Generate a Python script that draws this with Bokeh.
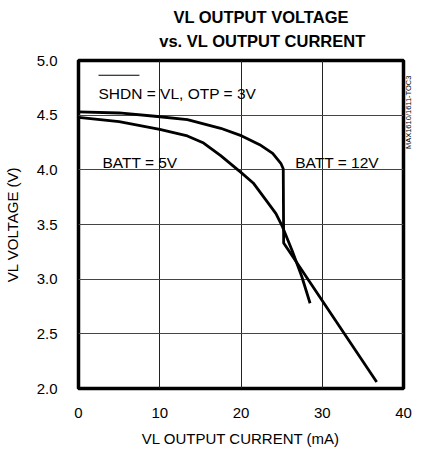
import math
from bokeh.plotting import figure
from bokeh.layouts import column
from bokeh.models import Label, FixedTicker, Range1d, LinearAxis
from bokeh.core.properties import value
from bokeh.embed import file_html
from bokeh.resources import INLINE

# ---- data ----
batt12_x = [0, 5, 9.4, 13.4, 17.5, 20.1, 22.3, 23.9, 24.9, 25.2, 25.25, 36.7]
batt12_y = [4.53, 4.52, 4.49, 4.46, 4.38, 4.31, 4.23, 4.15, 4.06, 4.01, 3.33, 2.06]

batt5_x = [0, 5, 10, 13.4, 15.4, 17.5, 20.1, 21.5, 23.1, 24.3, 25.1, 26.3, 27.5, 28.5]
batt5_y = [4.48, 4.44, 4.37, 4.31, 4.245, 4.13, 3.97, 3.88, 3.72, 3.60, 3.48, 3.26, 3.02, 2.78]

x_ticks = [0, 10, 20, 30, 40]
x_tick_labels = ["0", "10", "20", "30", "40"]
y_ticks = [2.0, 2.5, 3.0, 3.5, 4.0, 4.5, 5.0]
y_tick_labels = ["2.0", "2.5", "3.0", "3.5", "4.0", "4.5", "5.0"]

title_lines = ["VL OUTPUT VOLTAGE", "vs. VL OUTPUT CURRENT"]
x_label = "VL OUTPUT CURRENT (mA)"
y_label = "VL VOLTAGE (V)"
figure_code = "MAX1610/1611-TOC3"

FONT = "Liberation Sans"
TOTAL_W = 412
TITLE_H = 50

# ---- title strip (its own small figure, pixel coordinates) ----
tfig = figure(width=TOTAL_W, height=TITLE_H, x_range=Range1d(0, TOTAL_W), y_range=Range1d(0, TITLE_H),
              x_axis_type=None, y_axis_type=None, output_backend="svg", toolbar_location=None,
              min_border=0, title=None)
tfig.outline_line_color = None
tfig.background_fill_color = "white"
tfig.border_fill_color = "white"
tfig.text(x=[237.3, 239.0], y=[34.0, 9.7], text=title_lines,
          text_font=value(FONT), text_font_size="16.5px", text_font_style="bold",
          text_color="black", text_align="center", text_baseline="alphabetic")

# ---- main chart ----
p = figure(frame_width=325, frame_height=328, x_range=Range1d(0, 40), y_range=Range1d(2, 5),
           output_backend="svg", toolbar_location=None, title=None,
           min_border_left=74, min_border_right=0, min_border_top=10, min_border_bottom=56)

p.background_fill_color = "white"
p.border_fill_color = "white"
p.outline_line_color = "black"
p.outline_line_width = 3.5

for ax in (p.xaxis[0], p.yaxis[0]):
    ax.axis_line_color = None
    ax.major_tick_line_color = None
    ax.minor_tick_line_color = None
    ax.major_label_text_font = FONT
    ax.major_label_text_font_size = "15px"
    ax.major_label_text_color = "black"
    ax.axis_label_text_font = FONT
    ax.axis_label_text_font_size = "15px"
    ax.axis_label_text_font_style = "normal"
    ax.axis_label_text_color = "black"

p.xaxis.ticker = FixedTicker(ticks=x_ticks)
p.xaxis.major_label_overrides = {t: l for t, l in zip(x_ticks, x_tick_labels)}
p.yaxis.ticker = FixedTicker(ticks=y_ticks)
p.yaxis.major_label_overrides = {t: l for t, l in zip(y_ticks, y_tick_labels)}
p.xaxis.axis_label = x_label
p.yaxis.axis_label = y_label
p.xaxis.major_label_standoff = 13
p.yaxis.major_label_standoff = 15
p.xaxis.axis_label_standoff = 9
p.yaxis.axis_label_standoff = 13

p.xgrid.grid_line_color = "#222222"
p.ygrid.grid_line_color = "#444444"
p.xgrid.grid_line_width = 1
p.ygrid.grid_line_width = 1

# small rotated figure code on the right side (as a one-tick right axis)
code_y = 4.19
rax = LinearAxis(ticker=FixedTicker(ticks=[code_y]),
                 major_label_overrides={code_y: figure_code},
                 major_label_orientation=math.pi / 2,
                 axis_line_color=None, major_tick_line_color=None, minor_tick_line_color=None,
                 major_tick_out=0, major_tick_in=0,
                 major_label_standoff=5, major_label_text_font=FONT,
                 major_label_text_font_size="7.5px", major_label_text_color="black")
p.add_layout(rax, "right")

# curves
p.line(batt12_x, batt12_y, line_color="black", line_width=2.8, line_join="round")
p.line(batt5_x, batt5_y, line_color="black", line_width=2.8, line_join="round")

# annotations
def lab(x, y, text, **kw):
    opts = dict(text_font=FONT, text_font_size="15.5px", text_color="black",
                text_baseline="alphabetic", text_align="left")
    opts.update(kw)
    p.add_layout(Label(x=x, y=y, text=text, **opts))

lab(2.46, 4.70, "SHDN = VL, OTP = 3V")
p.segment(x0=[2.46], y0=[4.865], x1=[7.5], y1=[4.865], line_color="black", line_width=1.2)
lab(2.94, 4.068, "BATT = 5V")
lab(26.67, 4.068, "BATT = 12V")

layout = column(tfig, p, spacing=0)
open("out.html", "w").write(file_html(layout, INLINE))
